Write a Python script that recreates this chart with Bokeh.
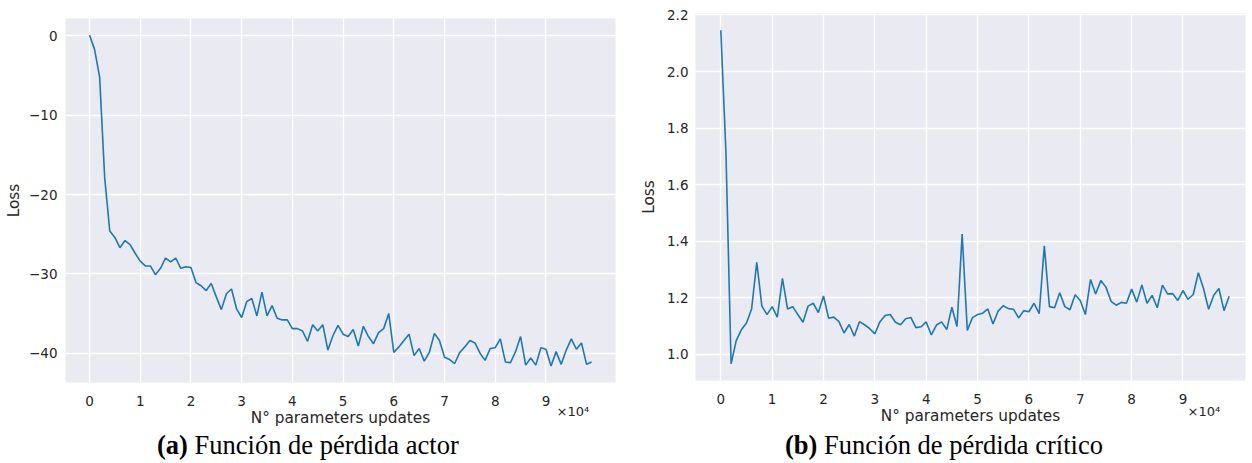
from bokeh.plotting import figure
from bokeh.models import Range1d, FixedTicker, Label, Div
from bokeh.layouts import row, column
from bokeh.embed import file_html
from bokeh.resources import INLINE

# Training steps (parameter updates), one record every 1000 updates
steps = [i * 1000 for i in range(100)]

actor_loss = [
    0.1, -1.7, -5.2, -17.9, -24.6, -25.4, -26.7, -25.8, -26.3, -27.4,
    -28.4, -29.0, -29.0, -30.1, -29.3, -28.0, -28.5, -28.0, -29.3, -29.1,
    -29.2, -31.1, -31.5, -32.1, -31.2, -32.9, -34.5, -32.5, -31.9, -34.4,
    -35.5, -33.5, -33.1, -35.3, -32.3, -35.3, -34.0, -35.6, -35.8, -35.8,
    -36.9, -36.9, -37.2, -38.5, -36.4, -37.2, -36.4, -39.6, -37.8, -36.5,
    -37.6, -37.9, -37.0, -39.1, -36.6, -37.9, -38.8, -37.4, -36.9, -35.0,
    -39.9, -39.2, -38.4, -37.6, -40.3, -39.4, -41.0, -39.9, -37.5, -38.4,
    -40.5, -40.8, -41.3, -39.9, -39.2, -38.4, -38.7, -40.0, -40.9, -39.4,
    -39.3, -38.2, -41.1, -41.2, -39.8, -37.9, -41.5, -40.6, -41.5, -39.3,
    -39.5, -41.6, -39.8, -41.4, -39.6, -38.2, -39.5, -38.7, -41.4, -41.1,
]

critic_loss = [
    2.146, 1.714, 0.967, 1.049, 1.087, 1.111, 1.161, 1.326, 1.171, 1.141,
    1.169, 1.132, 1.269, 1.161, 1.169, 1.141, 1.114, 1.171, 1.181, 1.148,
    1.207, 1.128, 1.132, 1.116, 1.076, 1.106, 1.065, 1.116, 1.105, 1.091,
    1.073, 1.116, 1.138, 1.141, 1.114, 1.105, 1.126, 1.131, 1.095, 1.098,
    1.115, 1.069, 1.104, 1.115, 1.088, 1.167, 1.099, 1.426, 1.085, 1.130,
    1.141, 1.146, 1.161, 1.108, 1.153, 1.172, 1.162, 1.160, 1.129, 1.155,
    1.151, 1.181, 1.144, 1.384, 1.169, 1.165, 1.218, 1.169, 1.158, 1.211,
    1.191, 1.141, 1.265, 1.214, 1.261, 1.238, 1.188, 1.174, 1.184, 1.181,
    1.231, 1.185, 1.246, 1.181, 1.209, 1.165, 1.245, 1.214, 1.215, 1.191,
    1.226, 1.195, 1.212, 1.289, 1.233, 1.160, 1.209, 1.233, 1.155, 1.206,
]

x_ticks = [0, 10000, 20000, 30000, 40000, 50000, 60000, 70000, 80000, 90000]
x_tick_labels = ["0", "1", "2", "3", "4", "5", "6", "7", "8", "9"]
actor_y_ticks = [0, -10, -20, -30, -40]
critic_y_ticks = [1.0, 1.2, 1.4, 1.6, 1.8, 2.0, 2.2]

x_label = "N° parameters updates"
y_label = "Loss"
offset_text = "×10⁴"
captions = [("(a)", "Función de pérdida actor"), ("(b)", "Función de pérdida crítico")]

BG = "#EAEAF2"
INK = "#262626"
LINE = "#1f77b4"
SANS = "DejaVu Sans"
SERIF = "Liberation Serif"
CAP_H = 30


def make_panel(y, y_ticks, y_fmt, x_rng, y_rng, height, borders, y_std, y_lab_std, off_xy):
    left, right, top, bottom = borders
    p = figure(width=626, height=height, output_backend="svg", toolbar_location=None,
               x_range=Range1d(*x_rng), y_range=Range1d(*y_rng),
               min_border_left=left, min_border_right=right,
               min_border_top=top, min_border_bottom=bottom)
    p.background_fill_color = BG
    p.border_fill_color = "white"
    p.outline_line_color = None

    p.line(steps, y, line_color=LINE, line_width=1.6)

    p.xaxis.ticker = FixedTicker(ticks=x_ticks)
    p.xaxis.major_label_overrides = dict(zip(x_ticks, x_tick_labels))
    p.yaxis.ticker = FixedTicker(ticks=y_ticks)
    p.yaxis.major_label_overrides = {t: y_fmt(t) for t in y_ticks}

    for ax in (p.xaxis, p.yaxis):
        ax.axis_line_color = None
        ax.major_tick_line_color = None
        ax.minor_tick_line_color = None
        ax.major_tick_out = 0
        ax.major_tick_in = 0
        ax.minor_tick_out = 0
        ax.minor_tick_in = 0
        ax.major_label_text_font = SANS
        ax.major_label_text_font_size = "13.5px"
        ax.major_label_text_color = INK
        ax.axis_label_text_font = SANS
        ax.axis_label_text_font_size = "15.3px"
        ax.axis_label_text_font_style = "normal"
        ax.axis_label_text_color = INK
    p.xaxis.axis_label = x_label
    p.yaxis.axis_label = y_label
    p.xaxis.major_label_standoff = 13
    p.xaxis.axis_label_standoff = 0
    p.yaxis.major_label_standoff = y_std
    p.yaxis.axis_label_standoff = y_lab_std

    p.xgrid.grid_line_color = "white"
    p.ygrid.grid_line_color = "white"
    p.xgrid.grid_line_width = 1.3
    p.ygrid.grid_line_width = 1.3

    # scale factor of the x axis, drawn under the right end of the tick labels
    ox, oy = off_xy
    p.add_layout(Label(x=ox, y=oy, text=offset_text, text_font=SANS,
                       text_font_size="13px", text_color=INK,
                       text_baseline="alphabetic"), "above")
    return p


def make_caption(tag, body, indent):
    html = (f'<div style="padding-left:{indent}px; font-family:\'{SERIF}\', serif; '
            f'font-size:26.5px; line-height:24px; color:black; white-space:nowrap;">'
            f'<b>{tag}</b> {body}</div>')
    return Div(text=html, width=626, height=CAP_H, margin=0)


def minus_fmt(t):
    return str(t).replace("-", "−")


def dec_fmt(t):
    return f"{t:.1f}"


left = make_panel(actor_loss, actor_y_ticks, minus_fmt,
                  (-4730, 103710), (-43.69, 2.19), 433, (65, 11, 18, 51), 8, 3,
                  (92077, -47.35))
# the right panel sits 3 px higher in its column, see margin below
right = make_panel(critic_loss, critic_y_ticks, dec_fmt,
                   (-4930, 102180), (0.908, 2.205), 436, (69, 7, 16, 53), 7, 6,
                   (90885, 0.7986))

left_cap = make_caption(*captions[0], 157)
right_cap = make_caption(*captions[1], 159)

layout = row(column(left, left_cap),
             column(right, right_cap, margin=(-3, 0, 0, 0)))
open("out.html", "w").write(file_html(layout, INLINE))
